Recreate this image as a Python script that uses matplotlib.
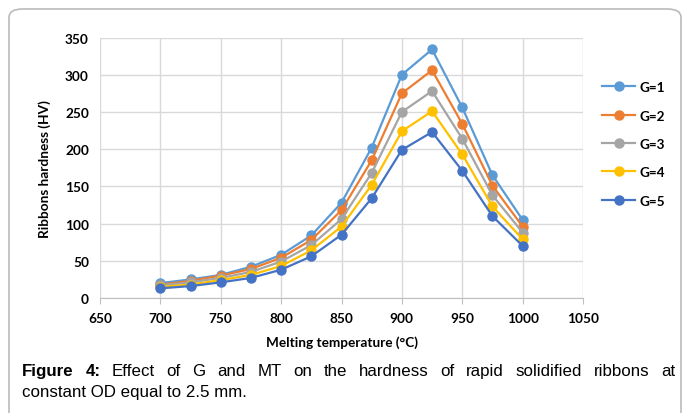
import matplotlib.pyplot as plt
from matplotlib.patches import FancyBboxPatch

temps = [700, 725, 750, 775, 800, 825, 850, 875, 900, 925, 950, 975, 1000]
g1 = [20, 25, 31, 42, 58, 84, 128, 202, 300, 334, 256, 165, 105]
g2 = [18, 23, 30, 39, 54, 78, 118, 185, 275, 306, 234, 151, 96]
g3 = [17, 21, 27, 35, 49, 71, 106, 168, 250, 278, 214, 138, 88]
g4 = [15, 18, 24, 31, 43, 64, 96, 152, 224, 251, 193, 123, 79]
g5 = [13, 16, 21, 27, 38, 56, 85, 134, 199, 223, 171, 110, 70]
series = [g1, g2, g3, g4, g5]
names = ["G=1", "G=2", "G=3", "G=4", "G=5"]
colors = ["#5B9BD5", "#ED7D31", "#A5A5A5", "#FFC000", "#4472C4"]

W, H = 683, 414
fig = plt.figure(figsize=(W / 100, H / 100), dpi=100)
ax = fig.add_axes([100 / W, 1 - 299 / H, 483 / W, 260.5 / H])

for vals, name, c in zip(series, names, colors):
    ax.plot(temps, vals, color=c, lw=1.6, marker="o", ms=6.5, label=name)

ax.set_xlim(650, 1050)
ax.set_ylim(0, 350)
ax.set_xticks(range(650, 1051, 50))
ax.set_yticks(range(0, 351, 50))
ax.grid(True, color="#D9D9D9", lw=1)
ax.set_axisbelow(True)
for s in ax.spines.values():
    s.set_visible(False)
ax.spines["bottom"].set_visible(True)
ax.spines["bottom"].set_color("#BFBFBF")
ax.tick_params(axis="x", length=4, color="#BFBFBF", pad=6)
ax.tick_params(axis="y", length=0, pad=8)
for lab in ax.get_xticklabels() + ax.get_yticklabels():
    lab.set_fontfamily("Lato")
    lab.set_fontweight("bold")
    lab.set_fontsize(9.8)

ax.set_xlabel("Melting temperature (°C)", fontfamily="Lato", fontweight="bold",
              fontsize=9.8, labelpad=8)
ax.set_ylabel("Ribbons hardness (HV)", fontfamily="Lato", fontweight="bold",
              fontsize=9.8, labelpad=10)

leg = ax.legend(loc="upper left", bbox_to_anchor=(590 / W, 1 - 70 / H),
                bbox_transform=fig.transFigure, frameon=False,
                prop={"family": "Lato", "weight": "bold", "size": 9.8},
                labelspacing=1.2, handlelength=2.4, handletextpad=0.3)

# rounded frame around the chart
frame = FancyBboxPatch((9 / W, -0.05), 672 / W, (1 - 10 / H) + 0.05,
                       boxstyle="round,pad=0,rounding_size=0.02",
                       transform=fig.transFigure, fill=False,
                       edgecolor="#BBBBBB", lw=1.2, clip_on=False)
fig.patches.append(frame)

# caption, first line justified between x=22 and x=675
words = ["Figure", "4:", "Effect", "of", "G", "and", "MT", "on", "the", "hardness",
         "of", "rapid", "solidified", "ribbons", "at"]
renderer = fig.canvas.get_renderer()
texts = []
for i, w in enumerate(words):
    t = fig.text(0, 1 - 372 / H, w, fontsize=12.2, fontfamily="Liberation Sans",
                 fontweight="bold" if i < 2 else "normal", va="center")
    texts.append(t)
widths = [t.get_window_extent(renderer).width for t in texts]
gap = (675 - 22 - sum(widths)) / (len(words) - 1)
x = 22
for t, w in zip(texts, widths):
    t.set_x(x / W)
    x += w + gap
fig.text(22 / W, 1 - 393 / H, "constant OD equal to 2.5 mm.", fontsize=12.2,
         fontfamily="Liberation Sans", va="center")

fig.savefig("out.png", dpi=100)
